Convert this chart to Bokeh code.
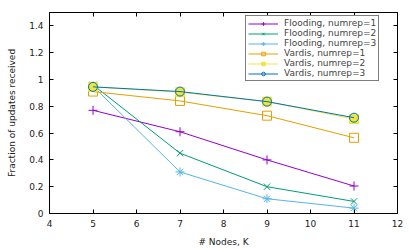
from bokeh.plotting import figure
from bokeh.models import Range1d, LinearAxis, FixedTicker, Legend, LegendItem
from bokeh.embed import file_html
from bokeh.resources import INLINE

nodes = [5, 7, 9, 11]
flood1 = [0.77, 0.61, 0.40, 0.205]
flood2 = [0.96, 0.45, 0.20, 0.09]
flood3 = [0.95, 0.31, 0.11, 0.04]
vardis1 = [0.91, 0.84, 0.73, 0.565]
vardis2 = [0.945, 0.905, 0.835, 0.705]
vardis3 = [0.945, 0.91, 0.835, 0.715]
labels = ["Flooding, numrep=1", "Flooding, numrep=2", "Flooding, numrep=3",
          "Vardis, numrep=1", "Vardis, numrep=2", "Vardis, numrep=3"]
x_ticks = [4, 5, 6, 7, 8, 9, 10, 11, 12]
y_ticks = [0, 0.2, 0.4, 0.6, 0.8, 1.0, 1.2, 1.4]

FONT = "DejaVu Sans"
p = figure(width=415, height=249, output_backend="svg", toolbar_location=None,
           x_range=Range1d(4, 12), y_range=Range1d(0, 1.5),
           min_border_left=49, min_border_right=18, min_border_top=12, min_border_bottom=35)
p.grid.visible = False
p.outline_line_color = "black"

for ax in (p.xaxis[0], p.yaxis[0]):
    ax.major_tick_in = 4
    ax.major_tick_out = 0
    ax.minor_tick_line_color = None
    ax.axis_line_color = "black"
    ax.major_label_text_font = FONT
    ax.major_label_text_font_size = "9px"
    ax.major_label_text_color = "#222222"
    ax.axis_label_text_font = FONT
    ax.axis_label_text_font_size = "9px"
    ax.axis_label_text_font_style = "normal"
    ax.axis_label_text_color = "#222222"
p.xaxis.ticker = FixedTicker(ticks=x_ticks)
p.yaxis.ticker = FixedTicker(ticks=y_ticks)
p.xaxis.major_label_overrides = {t: str(t) for t in x_ticks}
p.yaxis.major_label_overrides = {0: "0", 0.2: "0.2", 0.4: "0.4", 0.6: "0.6", 0.8: "0.8", 1.0: "1", 1.2: "1.2", 1.4: "1.4"}
p.xaxis.axis_label = "# Nodes, K"
p.yaxis.axis_label = "Fraction of updates received"
p.xaxis.major_label_standoff = 6
p.yaxis.major_label_standoff = 6
p.xaxis.axis_label_standoff = 7
p.yaxis.axis_label_standoff = 9

top = LinearAxis(ticker=FixedTicker(ticks=x_ticks), major_label_text_color=None,
                 major_label_text_font_size="0px",
                 major_tick_in=4, major_tick_out=0, minor_tick_line_color=None,
                 axis_line_color="black", major_label_standoff=0)
right = LinearAxis(ticker=FixedTicker(ticks=y_ticks), major_label_text_color=None,
                   major_label_text_font_size="0px",
                   major_tick_in=4, major_tick_out=0, minor_tick_line_color=None,
                   axis_line_color="black", major_label_standoff=0)
p.add_layout(top, "above")
p.add_layout(right, "right")

series = [
    (flood1, "#9400d3", "cross", None),
    (flood2, "#009e73", "x", None),
    (flood3, "#56b4e9", "asterisk", None),
    (vardis1, "#e69f00", "square", None),
    (vardis2, "#f0e442", "square", "#f0e442"),
    (vardis3, "#0072b2", "circle", None),
]
items = []
for (vals, col, marker, fill), lab in zip(series, labels):
    r1 = p.line(nodes, vals, line_color=col, line_width=1)
    r2 = p.scatter(nodes, vals, marker=marker, size=9, line_color=col,
                   fill_color=fill, line_width=1)
    items.append(LegendItem(label=lab, renderers=[r1, r2]))

leg = Legend(items=items, location=(196, 132), label_text_font=FONT,
             label_text_font_size="9px", label_height=9, glyph_height=9,
             glyph_width=30, spacing=0, padding=2, label_standoff=6,
             border_line_color="black", background_fill_alpha=1.0)
leg.margin = 0
p.add_layout(leg)

open("out.html", "w").write(file_html(p, INLINE))
